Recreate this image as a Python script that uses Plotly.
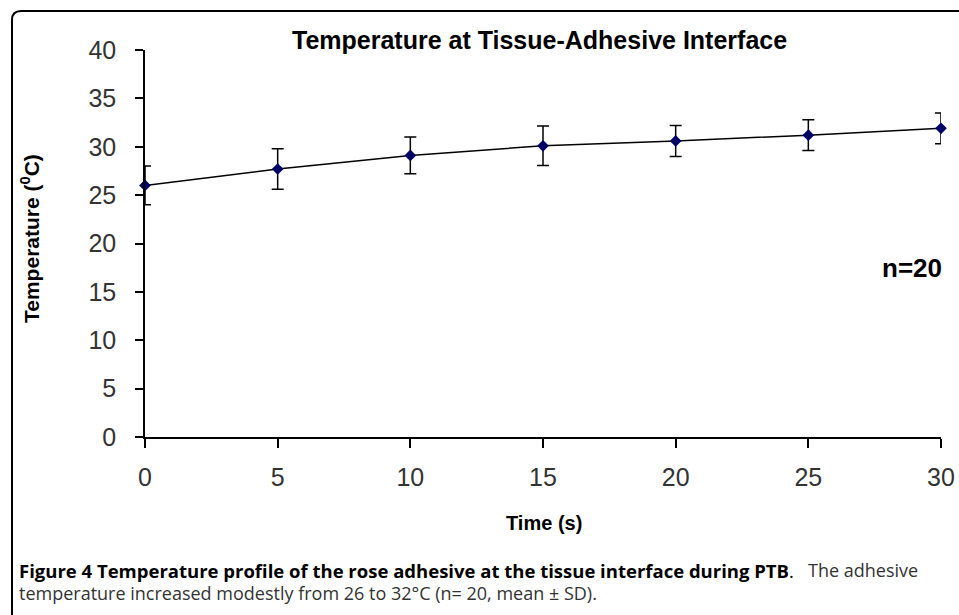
import plotly.graph_objects as go

time_s = [0, 5, 10, 15, 20, 25, 30]
temp_mean = [26.0, 27.7, 29.1, 30.1, 30.6, 31.2, 31.9]
temp_sd = [2.0, 2.1, 1.9, 2.05, 1.6, 1.6, 1.6]
x_ticks = [0, 5, 10, 15, 20, 25, 30]
y_ticks = [0, 5, 10, 15, 20, 25, 30, 35, 40]

W, H = 959, 615


def px(x):
    return x / W


def py(y):
    return 1 - y / H


fig = go.Figure()
fig.add_trace(go.Scatter(
    x=time_s, y=temp_mean,
    mode="lines+markers",
    line=dict(color="black", width=1.5),
    marker=dict(symbol="diamond", size=9, color="#000066"),
    error_y=dict(type="data", array=temp_sd, visible=True,
                 color="black", thickness=1.5, width=6),
    cliponaxis=False,
    showlegend=False,
))

axis_font = dict(family="Liberation Sans, Arial, sans-serif", size=25, color="#333333")

fig.update_layout(
    width=W, height=H,
    margin=dict(l=0, r=0, t=0, b=0, pad=0, autoexpand=False),
    paper_bgcolor="white",
    plot_bgcolor="white",
    xaxis=dict(
        domain=[px(145), px(941)],
        range=[0, 30], tickvals=x_ticks,
        showline=True, linecolor="black", linewidth=1.5,
        ticks="outside", ticklen=9, tickcolor="black", tickwidth=1.5,
        tickfont=axis_font, showgrid=False, zeroline=False,
        ticklabelstandoff=8, automargin=False,
    ),
    yaxis=dict(
        domain=[py(437), py(50)],
        range=[0, 40], tickvals=y_ticks,
        showline=True, linecolor="black", linewidth=1.5,
        ticks="outside", ticklen=8, tickcolor="black", tickwidth=1.5,
        tickfont=axis_font, showgrid=False, zeroline=False,
        ticklabelstandoff=14, automargin=False,
    ),
    shapes=[dict(
        type="path", xref="paper", yref="paper",
        path=(f"M {px(12)},{py(616)} L {px(12)},{py(20)} "
              f"Q {px(12)},{py(11)} {px(21)},{py(11)} L {px(960)},{py(11)}"),
        line=dict(color="black", width=2),
    )],
)

bold = "Liberation Sans, Arial, sans-serif"
ann = [
    dict(text="<b>Temperature at Tissue-Adhesive Interface</b>", x=px(539), y=py(40),
         font=dict(family=bold, size=25, color="black")),
    dict(text="<b>Time (s)</b>", x=px(544), y=py(523),
         font=dict(family=bold, size=20, color="black")),
    dict(text="<b>Temperature (<sup>0</sup>C)</b>", x=px(30), y=py(239), textangle=-90,
         font=dict(family=bold, size=21, color="black")),
    dict(text="<b>n=20</b>", x=px(912), y=py(268),
         font=dict(family=bold, size=26, color="black")),
]
for a in ann:
    fig.add_annotation(xref="paper", yref="paper", showarrow=False,
                       xanchor="center", yanchor="middle", **a)

cap_family = "Open Sans, sans-serif"
fig.add_annotation(
    xref="paper", yref="paper", showarrow=False, xanchor="left", yanchor="middle",
    x=px(17), y=py(570), font=dict(family=cap_family, size=18.5, color="black"),
    text=("<b>Figure 4 Temperature profile of the rose adhesive "
          "at the tissue interface during PTB</b>."),
)
fig.add_annotation(
    xref="paper", yref="paper", showarrow=False, xanchor="left", yanchor="middle",
    x=px(806), y=py(570), font=dict(family=cap_family, size=18, color="#333333"),
    text="The adhesive",
)
fig.add_annotation(
    xref="paper", yref="paper", showarrow=False, xanchor="left", yanchor="middle",
    x=px(17), y=py(593), font=dict(family=cap_family, size=18, color="#333333"),
    text="temperature increased modestly from 26 to 32°C (n= 20, mean ± SD).",
)

fig.write_html(
    "out.html",
    config={"displayModeBar": False},
    post_script="document.body.style.margin='0px';document.body.style.overflow='hidden';"
                "window.dispatchEvent(new Event('resize'));",
)
